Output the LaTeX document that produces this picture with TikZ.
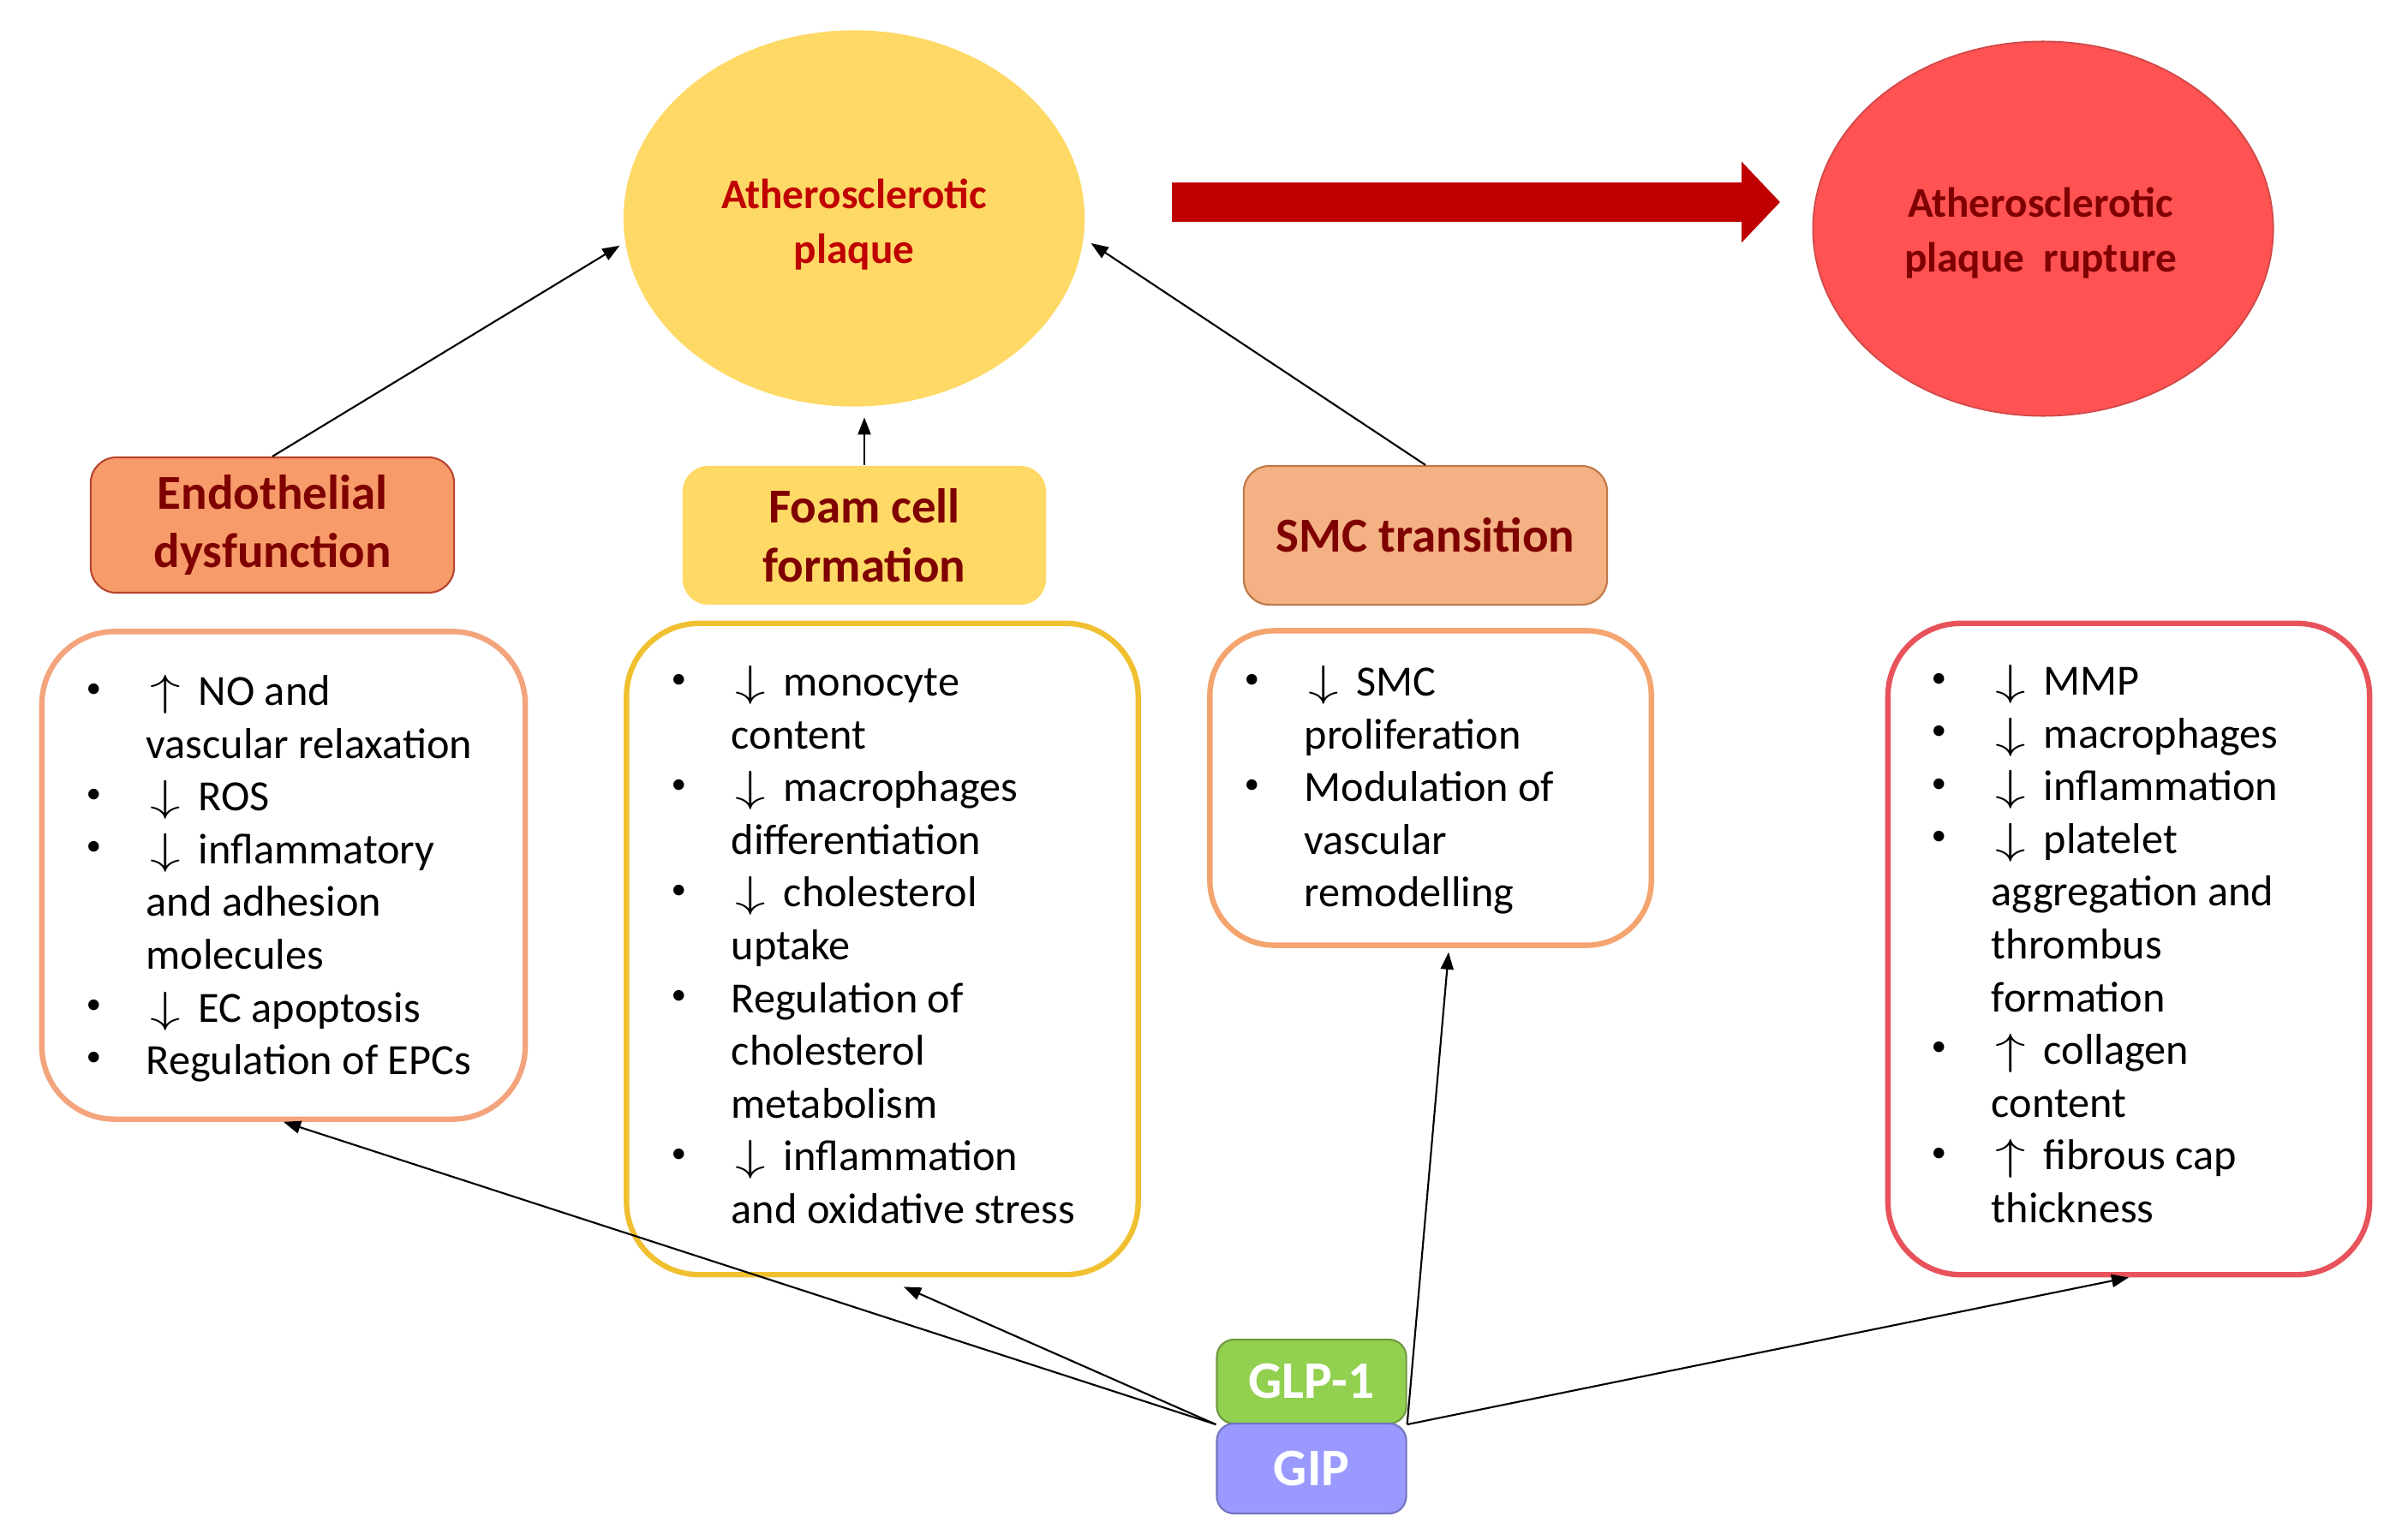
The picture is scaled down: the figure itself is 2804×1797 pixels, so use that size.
\documentclass[tikz,border=0pt]{standalone}
\usepackage{fontspec}
\usepackage{graphicx}
\setmainfont{Carlito}
\usetikzlibrary{arrows.meta,shapes.geometric,calc}
\definecolor{plaqueY}{HTML}{FFD966}
\definecolor{plaqueT}{HTML}{C00000}
\definecolor{ruptF}{HTML}{FF5252}
\definecolor{ruptD}{HTML}{D04848}
\definecolor{darkT}{HTML}{7F0000}
\definecolor{endoF}{HTML}{F89B6A}
\definecolor{endoD}{HTML}{B8432E}
\definecolor{smcF}{HTML}{F4B183}
\definecolor{smcD}{HTML}{C07848}
\definecolor{bOne}{HTML}{F4A47C}
\definecolor{bTwo}{HTML}{F0C030}
\definecolor{bThree}{HTML}{F4A46E}
\definecolor{bFour}{HTML}{E8525A}
\definecolor{glpF}{HTML}{92D050}
\definecolor{glpD}{HTML}{6F9A40}
\definecolor{gipF}{HTML}{9999FF}
\definecolor{gipD}{HTML}{7373C0}
\definecolor{fatR}{HTML}{C00000}
\newcommand{\UA}{\makebox[0.61cm][l]{\hspace{0.05cm}\scalebox{1.4}[1]{$\uparrow$}}}
\newcommand{\DA}{\makebox[0.61cm][l]{\hspace{0.05cm}\scalebox{1.4}[1]{$\downarrow$}}}
\newcommand{\BL}{\hspace{0.02cm}\raisebox{0.4ex}{\scalebox{0.7}{\textbullet}}}
\begin{document}
\begin{tikzpicture}[x=0.01cm, y=-0.01cm,
  head/.style={draw, rounded corners=0.3cm, minimum width=4.24cm, minimum height=1.58cm, inner sep=0pt, align=center, text=darkT, font=\fontsize{16.2}{19.6}\selectfont\bfseries, line width=0.6pt},
  listbox/.style={rounded corners=0.85cm, line width=1.8pt, inner sep=0pt},
  listtext/.style={anchor=north west, inner sep=0pt, font=\fontsize{14.3}{17.5}\selectfont},
  conn/.style={line width=0.6pt, -{Triangle[length=0.2cm,width=0.15cm]}},
  oval/.style={ellipse, inner sep=0pt, align=center, font=\fontsize{14}{18}\selectfont\bfseries},
  hormone/.style={rounded corners=0.2cm, minimum width=2.21cm, inner sep=0pt, text=white, font=\fontsize{17.5}{20}\selectfont\bfseries, line width=0.6pt}
]
\useasboundingbox (0,0) rectangle (2804,1797);
\fill[white] (0,0) rectangle (2804,1797);

\node[oval, fill=plaqueY, text=plaqueT, minimum width=5.38cm, minimum height=4.39cm] (plaque) at (997,255) {};
\node[align=center, text=plaqueT, font=\fontsize{14}{18}\selectfont\bfseries, inner sep=0pt] (plaqueL) at (997,262) {Atherosclerotic\\plaque};
\node[oval, fill=ruptF, draw=ruptD, line width=0.5pt, text=darkT, minimum width=5.37cm, minimum height=4.37cm] (rupture) at (2385,267) {};
\node[align=center, text=darkT, font=\fontsize{14}{18}\selectfont\bfseries, inner sep=0pt] (ruptureL) at (2382,272) {Atherosclerotic\\plaque~~rupture};

\coordinate (fa1) at (1368,236);
\coordinate (fa2) at (2078,236);
\draw[fatR, line width=0.45cm, -{Triangle[length=0.45cm,width=0.92cm]}] (fa1) -- (fa2);

\node[head, fill=endoF, draw=endoD] (endo) at (318,613) {Endothelial\\dysfunction};
\node[head, fill=plaqueY, draw=none, minimum height=1.62cm] (foam) at (1009,625) {Foam cell\\formation};
\node[head, fill=smcF, draw=smcD, minimum height=1.62cm] (smc) at (1664,625) {SMC transition};

\node[listbox, draw=bOne, minimum width=5.64cm, minimum height=5.69cm] (b1) at (331,1022) {};
\node[listbox, draw=bTwo, minimum width=5.97cm, minimum height=7.60cm] (b2) at (1030,1108) {};
\node[listbox, draw=bThree, minimum width=5.15cm, minimum height=3.67cm, rounded corners=0.75cm] (b3) at (1670,920) {};
\node[listbox, draw=bFour, minimum width=5.62cm, minimum height=7.60cm] (b4) at (2485,1108) {};

\node[listtext] (t1) at (98,780) {\begin{tabular}{@{}p{0.72cm}@{}l@{}}
\BL & \UA NO and\\
 & vascular relaxation\\
\BL & \DA ROS\\
\BL & \DA inflammatory\\
 & and adhesion\\
 & molecules\\
\BL & \DA EC apoptosis\\
\BL & Regulation of EPCs
\end{tabular}};

\node[listtext] (t2) at (781,769) {\begin{tabular}{@{}p{0.72cm}@{}l@{}}
\BL & \DA monocyte\\
 & content\\
\BL & \DA macrophages\\
 & differentiation\\
\BL & \DA cholesterol\\
 & uptake\\
\BL & Regulation of\\
 & cholesterol\\
 & metabolism\\
\BL & \DA inflammation\\
 & and oxidative stress
\end{tabular}};

\node[listtext] (t3) at (1450,769) {\begin{tabular}{@{}p{0.72cm}@{}l@{}}
\BL & \DA SMC\\
 & proliferation\\
\BL & Modulation of\\
 & vascular\\
 & remodelling
\end{tabular}};

\node[listtext] (t4) at (2252,768) {\begin{tabular}{@{}p{0.72cm}@{}l@{}}
\BL & \DA MMP\\
\BL & \DA macrophages\\
\BL & \DA inflammation\\
\BL & \DA platelet\\
 & aggregation and\\
 & thrombus\\
 & formation\\
\BL & \UA collagen\\
 & content\\
\BL & \UA fibrous cap\\
 & thickness
\end{tabular}};

\node[hormone, fill=glpF, draw=glpD, minimum height=0.98cm] (glp) at (1531,1613) {GLP-1};
\node[hormone, fill=gipF, draw=gipD, minimum height=1.05cm] (gip) at (1531,1714.5) {GIP};

\draw[conn, shorten >=0.07cm] (endo.north) -- (plaque.186);
\draw[conn, shorten >=0.12cm] (foam.north) -- (foam.north |- plaque.south);
\draw[conn, shorten >=0.1cm] (smc.north) -- (plaque.-5);

\draw[conn] (glp.south west) -- (b1.south);
\draw[conn] (glp.south west) -- ($(b2.south)+(0.25cm,-0.11cm)$);
\draw[conn] (glp.south east) -- ($(b3.south)+(0.21cm,-0.05cm)$);
\draw[conn] (glp.south east) -- (b4.south);
\end{tikzpicture}
\end{document}
